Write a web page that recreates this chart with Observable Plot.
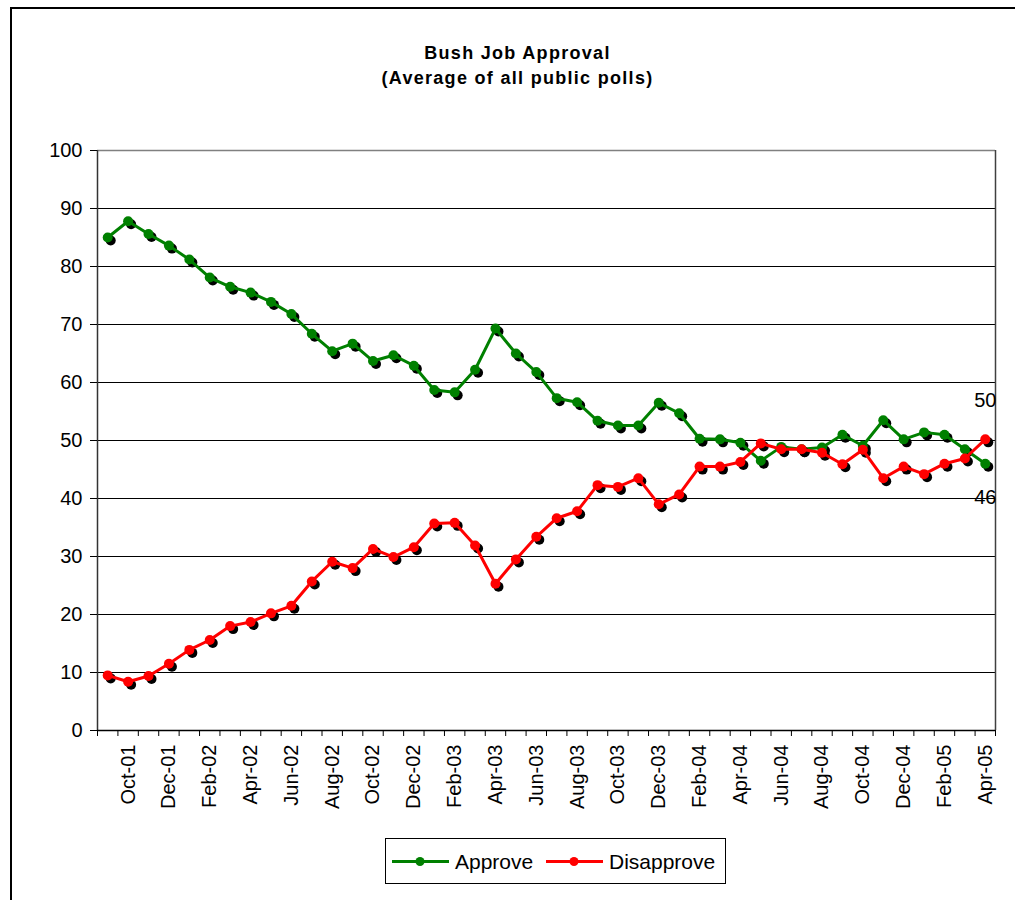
<!DOCTYPE html>
<html>
<head>
<meta charset="utf-8">
<script src="https://cdn.jsdelivr.net/npm/d3@7"></script>
<script src="https://cdn.jsdelivr.net/npm/@observablehq/plot@0.6"></script>
<style>
  html, body { margin: 0; padding: 0; background: #fff; overflow: hidden; }
  #wrap { position: relative; width: 1015px; height: 900px; overflow: hidden; background: #fff;
          font-family: Arial, "Liberation Sans", sans-serif; }
  #frame { position: absolute; left: 10px; top: 7px; width: 1100px; height: 1000px;
           border-left: 2px solid #000; border-top: 2px solid #000; }
  #title { position: absolute; left: 10px; top: 41px; width: 1015px; text-align: center;
           font-weight: bold; font-size: 18px; line-height: 25px; letter-spacing: 1.3px; color: #000; }
  #chart { position: absolute; left: 0; top: 0; }
  #legend { position: absolute; left: 385px; top: 838px; }
</style>
</head>
<body>
<div id="wrap">
  <div id="frame"></div>
  <div id="chart"></div>
  <div id="title">Bush Job Approval<br>(Average of all public polls)</div>
  <div id="legend"></div>
</div>
<script>
// Months (Sep-01 .. Apr-05)
const months = ["Sep-01","Oct-01","Nov-01","Dec-01","Jan-02","Feb-02","Mar-02","Apr-02","May-02","Jun-02",
  "Jul-02","Aug-02","Sep-02","Oct-02","Nov-02","Dec-02","Jan-03","Feb-03","Mar-03","Apr-03",
  "May-03","Jun-03","Jul-03","Aug-03","Sep-03","Oct-03","Nov-03","Dec-03","Jan-04","Feb-04",
  "Mar-04","Apr-04","May-04","Jun-04","Jul-04","Aug-04","Sep-04","Oct-04","Nov-04","Dec-04",
  "Jan-05","Feb-05","Mar-05","Apr-05"];

const approve = [85.0, 87.8, 85.6, 83.6, 81.2, 78.1, 76.5, 75.5, 73.9, 71.8,
  68.4, 65.4, 66.7, 63.7, 64.7, 62.9, 58.7, 58.3, 62.2, 69.3,
  65.0, 61.8, 57.3, 56.6, 53.4, 52.6, 52.6, 56.5, 54.7, 50.3,
  50.2, 49.6, 46.5, 48.9, 48.5, 48.8, 51.0, 49.1, 53.5, 50.2,
  51.4, 51.0, 48.5, 46.0];

const disapprove = [9.5, 8.4, 9.4, 11.5, 13.9, 15.6, 18.0, 18.7, 20.2, 21.5,
  25.7, 29.1, 28.0, 31.3, 29.9, 31.6, 35.7, 35.8, 31.9, 25.3,
  29.5, 33.4, 36.6, 37.8, 42.3, 42.0, 43.5, 39.0, 40.7, 45.5,
  45.5, 46.3, 49.5, 48.5, 48.5, 47.9, 45.9, 48.4, 43.5, 45.5,
  44.2, 46.0, 46.9, 50.2];

// Tick labels shown (every second month)
const tickLabels = ["Oct-01","Dec-01","Feb-02","Apr-02","Jun-02","Aug-02","Oct-02","Dec-02",
  "Feb-03","Apr-03","Jun-03","Aug-03","Oct-03","Dec-03","Feb-04","Apr-04","Jun-04","Aug-04",
  "Oct-04","Dec-04","Feb-05","Apr-05"];

const endLabels = [{series: "Disapprove", text: "50"}, {series: "Approve", text: "46"}];
const yTicks = [0, 10, 20, 30, 40, 50, 60, 70, 80, 90, 100];

const apData = approve.map((v, i) => ({x: i + 0.5, month: months[i], v}));
const disData = disapprove.map((v, i) => ({x: i + 0.5, month: months[i], v}));
const n = months.length;

const labelPos = tickLabels.map(l => months.indexOf(l) + 0.5);
const labelMap = new Map(tickLabels.map(l => [months.indexOf(l) + 0.5, l]));

const GREEN = "#008000", RED = "#ff0000";

const chart = Plot.plot({
  width: 1015,
  height: 900,
  marginLeft: 97,
  marginRight: 20,
  marginTop: 150,
  marginBottom: 170,
  style: {fontFamily: "Arial, 'Liberation Sans', sans-serif", fontSize: "20px", color: "#000", background: "transparent", overflow: "visible"},
  x: {type: "linear", domain: [0, n]},
  y: {domain: [0, 100]},
  marks: [
    Plot.gridY(yTicks.filter(d => d > 0 && d < 100), {stroke: "#000", strokeOpacity: 1}),
    Plot.ruleY([100], {stroke: "#808080", strokeWidth: 1.5}),
    Plot.ruleX([n], {stroke: "#404040", strokeWidth: 1.5}),
    Plot.ruleX([0], {stroke: "#333", strokeWidth: 1.5}),
    Plot.ruleY([0], {stroke: "#000", strokeWidth: 1.5}),
    Plot.axisY(yTicks, {tickSize: 7, tickPadding: 8, label: null, fontSize: 20, stroke: "#000"}),
    Plot.axisX(d3.range(0, n + 1), {tickSize: 6, tickFormat: () => "", label: null}),
    Plot.axisX(labelPos, {tickSize: 0, tickPadding: 14, tickRotate: -90, textAnchor: "end",
      tickFormat: d => labelMap.get(d), label: null, fontSize: 20}),
    // Approve series
    Plot.dot(apData, {x: "x", y: "v", r: 5, fill: "#000", dx: 3, dy: 3}),
    Plot.line(apData, {x: "x", y: "v", stroke: GREEN, strokeWidth: 3}),
    Plot.dot(apData, {x: "x", y: "v", r: 5, fill: GREEN}),
    // Disapprove series
    Plot.dot(disData, {x: "x", y: "v", r: 5, fill: "#000", dx: 3, dy: 3}),
    Plot.line(disData, {x: "x", y: "v", stroke: RED, strokeWidth: 3}),
    Plot.dot(disData, {x: "x", y: "v", r: 5, fill: RED}),
    // End labels
    Plot.text([disData[n - 1]], {x: "x", y: "v", text: () => endLabels[0].text, dy: -39, fontSize: 20, fill: "#000"}),
    Plot.text([apData[n - 1]], {x: "x", y: "v", text: () => endLabels[1].text, dy: 34, fontSize: 20, fill: "#000"})
  ]
});
document.getElementById("chart").appendChild(chart);

// Legend
const lg = d3.select("#legend").append("svg").attr("width", 342).attr("height", 47);
lg.append("rect").attr("x", 0.5).attr("y", 0.5).attr("width", 340).attr("height", 45)
  .attr("fill", "#fff").attr("stroke", "#000");
const items = [{name: "Approve", color: GREEN, x0: 7}, {name: "Disapprove", color: RED, x0: 161}];
items.forEach(it => {
  lg.append("line").attr("x1", it.x0).attr("x2", it.x0 + 57).attr("y1", 23.5).attr("y2", 23.5)
    .attr("stroke", it.color).attr("stroke-width", 3);
  lg.append("circle").attr("cx", it.x0 + 28).attr("cy", 23.5).attr("r", 4.5).attr("fill", it.color);
  lg.append("text").attr("x", it.x0 + 63).attr("y", 31).text(it.name)
    .attr("font-family", "Arial, 'Liberation Sans', sans-serif").attr("font-size", 21).attr("fill", "#000");
});
</script>
</body>
</html>
